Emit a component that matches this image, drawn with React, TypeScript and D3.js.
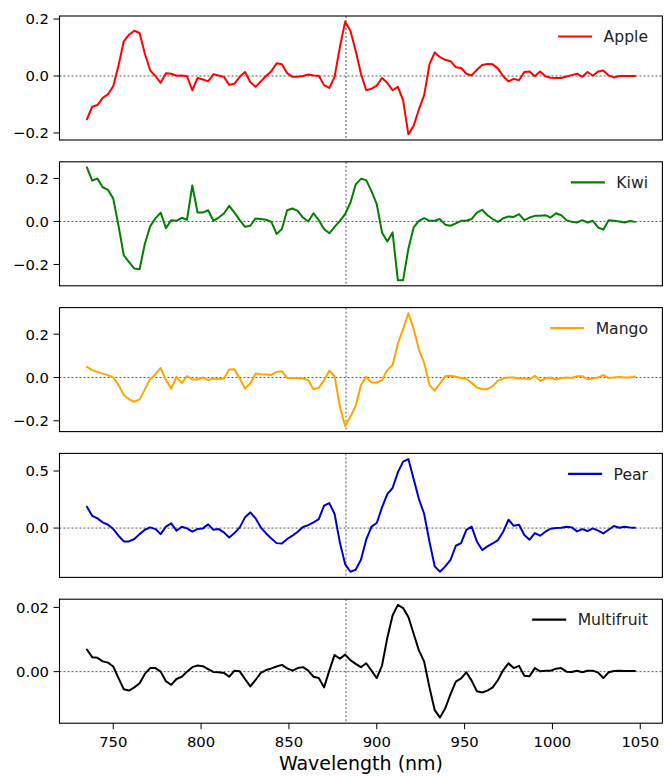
import React from "react";
import * as d3 from "d3";

// Wavelength grid (nm)
const wavelengths: number[] = d3.range(735, 1048, 3);

const apple: number[] = [
  -0.152, -0.108, -0.102, -0.077, -0.064, -0.036, 0.037, 0.122, 0.145, 0.159,
  0.151, 0.078, 0.02, 0.0, -0.024, 0.01, 0.008, 0.001, 0.002, -0.001,
  -0.05, -0.007, -0.012, -0.019, 0.006, 0.002, -0.003, -0.031, -0.027, -0.003,
  0.014, -0.021, -0.038, -0.019, 0.0, 0.017, 0.045, 0.041, 0.01, -0.003,
  -0.003, 0.0, 0.005, 0.002, 0.001, -0.032, -0.042, -0.003, 0.101, 0.191,
  0.159, 0.089, 0.008, -0.05, -0.045, -0.034, -0.007, -0.024, -0.05, -0.038,
  -0.085, -0.205, -0.175, -0.117, -0.067, 0.041, 0.083, 0.066, 0.057, 0.052,
  0.031, 0.028, 0.008, 0.002, 0.022, 0.039, 0.042, 0.041, 0.026, -0.001,
  -0.019, -0.01, -0.015, 0.014, 0.016, -0.001, 0.016, -0.001, -0.006, -0.007,
  -0.007, -0.002, 0.003, 0.008, -0.003, 0.014, 0.001, 0.016, 0.019, 0.002,
  -0.005, 0.0, 0.0, 0.0, 0.0,
];

const kiwi: number[] = [
  0.251, 0.19, 0.199, 0.159, 0.147, 0.106, -0.02, -0.158, -0.189, -0.219,
  -0.222, -0.104, -0.023, 0.014, 0.041, -0.031, 0.006, 0.003, 0.017, 0.008,
  0.167, 0.041, 0.041, 0.052, 0.003, 0.018, 0.037, 0.072, 0.041, 0.006,
  -0.025, -0.02, 0.014, 0.011, 0.008, -0.002, -0.058, -0.035, 0.052, 0.06,
  0.049, 0.018, 0.0, 0.038, 0.006, -0.035, -0.055, -0.025, 0.003, 0.034,
  0.087, 0.172, 0.198, 0.192, 0.141, 0.08, -0.051, -0.093, -0.051, -0.273,
  -0.273, -0.127, -0.028, 0.003, 0.015, 0.003, 0.003, 0.011, -0.015, -0.02,
  -0.009, 0.003, 0.003, 0.011, 0.041, 0.054, 0.029, 0.011, -0.002, 0.015,
  0.023, 0.021, 0.034, 0.006, 0.018, 0.026, 0.026, 0.029, 0.018, 0.038,
  0.029, 0.006, -0.002, -0.005, 0.006, -0.005, 0.003, -0.028, -0.038, 0.006,
  0.003, 0.0, -0.005, 0.002, -0.002,
];

const mango: number[] = [
  0.049, 0.034, 0.026, 0.018, 0.011, 0.0, -0.035, -0.081, -0.101, -0.112,
  -0.101, -0.055, -0.008, 0.015, 0.044, -0.012, -0.052, 0.003, -0.025, 0.006,
  -0.009, -0.009, 0.0, -0.012, -0.005, -0.008, -0.005, 0.037, 0.038, -0.005,
  -0.051, -0.028, 0.018, 0.015, 0.014, 0.012, 0.026, 0.029, -0.002, -0.002,
  -0.003, -0.005, -0.012, -0.054, -0.048, -0.012, 0.031, 0.006, -0.135, -0.224,
  -0.181, -0.132, -0.035, 0.003, -0.023, -0.023, -0.012, 0.034, 0.057, 0.156,
  0.225, 0.297, 0.225, 0.129, 0.067, -0.035, -0.061, -0.028, 0.006, 0.008,
  0.003, -0.002, -0.006, -0.025, -0.046, -0.054, -0.054, -0.04, -0.015, -0.005,
  0.0, 0.0, -0.005, -0.005, -0.008, 0.008, -0.015, -0.005, 0.0, -0.009,
  -0.003, 0.0, -0.002, 0.006, 0.006, -0.008, -0.003, 0.0, 0.011, -0.002,
  0.0, 0.002, 0.0, 0.0, 0.005,
];

const pear: number[] = [
  0.187, 0.108, 0.085, 0.05, 0.029, -0.009, -0.067, -0.117, -0.117, -0.096,
  -0.053, -0.015, 0.006, -0.009, -0.053, 0.012, 0.041, -0.023, 0.012, -0.003,
  -0.032, -0.009, -0.003, 0.032, -0.015, -0.009, -0.038, -0.082, -0.044, 0.006,
  0.094, 0.137, 0.085, 0.006, -0.047, -0.091, -0.132, -0.135, -0.096, -0.067,
  -0.032, 0.009, 0.026, 0.05, 0.079, 0.196, 0.219, 0.123, -0.126, -0.316,
  -0.383, -0.365, -0.278, -0.102, 0.012, 0.044, 0.181, 0.298, 0.351, 0.488,
  0.582, 0.605, 0.43, 0.254, 0.123, -0.12, -0.336, -0.383, -0.336, -0.278,
  -0.155, -0.132, -0.015, 0.012, -0.117, -0.193, -0.161, -0.135, -0.105, -0.032,
  0.073, 0.02, 0.029, -0.061, -0.102, -0.044, -0.067, -0.032, -0.006, 0.0,
  0.003, 0.012, 0.006, -0.029, -0.009, -0.026, -0.003, -0.023, -0.047, -0.015,
  0.018, 0.003, 0.012, 0.006, 0.003,
];

const multifruit: number[] = [
  0.0069, 0.0045, 0.0043, 0.0032, 0.0028, 0.0016, -0.002, -0.0055, -0.0059, -0.0049,
  -0.0036, -0.0007, 0.0011, 0.0011, 0.0, -0.003, -0.0041, -0.0023, -0.0016, 0.0,
  0.0014, 0.0019, 0.0017, 0.0008, -0.0001, -0.0002, -0.0004, -0.0016, 0.0003, 0.0001,
  -0.0023, -0.0046, -0.0026, -0.0004, 0.0005, 0.001, 0.0016, 0.0021, 0.001, 0.0003,
  0.0011, 0.0014, 0.0003, -0.0016, -0.002, -0.0049, 0.0003, 0.0052, 0.004, 0.0053,
  0.0036, 0.0024, 0.0014, 0.0026, 0.0003, -0.002, 0.0019, 0.0105, 0.0175, 0.0208,
  0.0198, 0.017, 0.0118, 0.0066, 0.0031, -0.0049, -0.012, -0.0143, -0.0114, -0.007,
  -0.0031, -0.0021, -0.0002, -0.0028, -0.0061, -0.0065, -0.0059, -0.0049, -0.0026, 0.0005,
  0.0026, 0.0011, 0.0018, -0.0013, -0.0014, 0.0011, 0.0001, 0.0003, 0.0003, 0.0009,
  0.0011, 0.0, -0.0001, 0.0003, -0.0002, 0.0003, 0.0003, -0.0003, -0.002, -0.0002,
  0.0002, 0.0003, 0.0002, 0.0002, 0.0002,
];

const seriesNames: string[] = ["Apple", "Kiwi", "Mango", "Pear", "Multifruit"];
const seriesValues: number[][] = [apple, kiwi, mango, pear, multifruit];
const seriesColors: string[] = ["#ff0000", "#008000", "#ffa500", "#0000cd", "#000000"];
const yTicks: number[][] = [
  [-0.2, 0, 0.2],
  [-0.2, 0, 0.2],
  [-0.2, 0, 0.2],
  [0, 0.5],
  [0, 0.02],
];
const yDecimals: number[] = [1, 1, 1, 1, 2];
const xTicks: number[] = [750, 800, 850, 900, 950, 1000, 1050];
const markerWavelength = 882.5;

const W = 664;
const H = 776;
const LEFT = 59.5;
const RIGHT = 662.4;
const PANEL_TOP = 16;
const PANEL_STEP = 145.8;
const PANEL_H = 124;
const FONT = "'DejaVu Sans', sans-serif";
const TICK_FS = 14.8;
const LEGEND_FS = 15.6;

function fmt(v: number, dec: number): string {
  const s = v.toFixed(dec);
  return v < 0 ? "\u2212" + s.slice(1) : s;
}

function textWidth(text: string, size: number): number {
  const c = document.createElement("canvas").getContext("2d");
  if (!c) return text.length * size * 0.6;
  c.font = `${size}px 'DejaVu Sans'`;
  return c.measureText(text).width;
}

export default function App() {
  const xExt = d3.extent(wavelengths) as [number, number];
  const xPad = (xExt[1] - xExt[0]) * 0.05;
  const x = d3
    .scaleLinear()
    .domain([xExt[0] - xPad, xExt[1] + xPad])
    .range([LEFT, RIGHT]);

  return (
    <svg
      width={W}
      height={H}
      style={{ position: "absolute", left: 0, top: 0, background: "#fff" }}
      fontFamily={FONT}
    >
      <rect x={0} y={0} width={W} height={H} fill="#fff" />
      {seriesValues.map((vals, i) => {
        const top = PANEL_TOP + PANEL_STEP * i;
        const bottom = top + PANEL_H;
        const ext = d3.extent(vals) as [number, number];
        const pad = (ext[1] - ext[0]) * 0.05;
        const y = d3
          .scaleLinear()
          .domain([ext[0] - pad, ext[1] + pad])
          .range([bottom, top]);
        const line = d3
          .line<number>()
          .x((_, j) => x(wavelengths[j]))
          .y((d) => y(d));
        const name = seriesNames[i];
        const tw = textWidth(name, LEGEND_FS);
        const textRight = 648;
        const lineEnd = textRight - tw - 11.5;
        const legY = top + 20.5;
        const clipId = `clip-${i}`;
        return (
          <g key={name}>
            <defs>
              <clipPath id={clipId}>
                <rect x={LEFT} y={top} width={RIGHT - LEFT} height={PANEL_H} />
              </clipPath>
            </defs>
            <g clipPath={`url(#${clipId})`}>
              <line
                x1={LEFT}
                x2={RIGHT}
                y1={y(0)}
                y2={y(0)}
                stroke="#444"
                strokeWidth={0.9}
                strokeDasharray="2,2"
              />
              <line
                x1={x(markerWavelength)}
                x2={x(markerWavelength)}
                y1={top}
                y2={bottom}
                stroke="#444"
                strokeWidth={0.9}
                strokeDasharray="2,2"
              />
              <path
                d={line(vals) || ""}
                fill="none"
                stroke={seriesColors[i]}
                strokeWidth={2}
                strokeLinejoin="round"
                strokeLinecap="round"
              />
            </g>
            {yTicks[i].map((t) => (
              <g key={t}>
                <line x1={LEFT - 6} x2={LEFT} y1={y(t)} y2={y(t)} stroke="#000" strokeWidth={1} />
                <text
                  x={LEFT - 10.5}
                  y={y(t)}
                  dy="0.36em"
                  textAnchor="end"
                  fontSize={TICK_FS}
                  fill="#000"
                >
                  {fmt(t, yDecimals[i])}
                </text>
              </g>
            ))}
            {i === seriesValues.length - 1 &&
              xTicks.map((t) => (
                <g key={t}>
                  <line x1={x(t)} x2={x(t)} y1={bottom} y2={bottom + 6} stroke="#000" strokeWidth={1} />
                  <text x={x(t)} y={bottom + 24} textAnchor="middle" fontSize={TICK_FS} fill="#000">
                    {t}
                  </text>
                </g>
              ))}
            <rect
              x={LEFT}
              y={top}
              width={RIGHT - LEFT}
              height={PANEL_H}
              fill="none"
              stroke="#000"
              strokeWidth={1.1}
            />
            <line
              x1={lineEnd - 34}
              x2={lineEnd}
              y1={legY}
              y2={legY}
              stroke={seriesColors[i]}
              strokeWidth={2.2}
            />
            <text
              x={textRight}
              y={legY}
              dy="0.36em"
              textAnchor="end"
              fontSize={LEGEND_FS}
              fill="#222"
            >
              {name}
            </text>
          </g>
        );
      })}
      <text
        x={(LEFT + RIGHT) / 2}
        y={770}
        textAnchor="middle"
        fontSize={19}
        fill="#000"
      >
        Wavelength (nm)
      </text>
    </svg>
  );
}
